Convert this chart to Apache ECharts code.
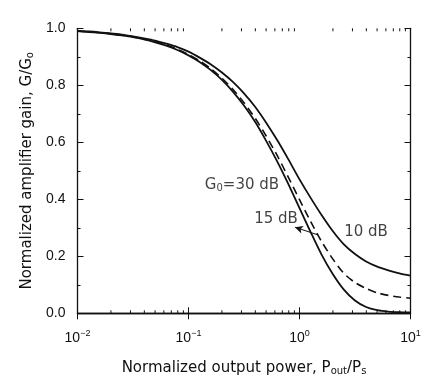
<!DOCTYPE html>
<html>
<head>
<meta charset="utf-8">
<script src="https://cdn.jsdelivr.net/npm/echarts@6/dist/echarts.min.js"></script>
<style>
html,body{margin:0;padding:0;background:#fff;}
#c{width:439px;height:388px;}
</style>
</head>
<body>
<div id="c"></div>
<script>
// Normalized output power Pout/Ps (log scale)
const xPower = [0.01, 0.0126, 0.0158, 0.02, 0.0251, 0.0316, 0.0398, 0.0501, 0.0631, 0.0794,
                0.1, 0.126, 0.158, 0.2, 0.251, 0.316, 0.398, 0.501, 0.631, 0.794,
                1, 1.26, 1.58, 2, 2.51, 3.16, 3.98, 5.01, 6.31, 7.94, 10];
// Normalized gain G/G0
const gain30dB = [0.990, 0.987, 0.984, 0.980, 0.975, 0.969, 0.961, 0.951, 0.939, 0.924,
                  0.905, 0.882, 0.854, 0.819, 0.778, 0.729, 0.672, 0.605, 0.532, 0.453,
                  0.369, 0.285, 0.206, 0.137, 0.083, 0.045, 0.022, 0.011, 0.006, 0.004, 0.003];
const gain15dB = [0.990, 0.988, 0.985, 0.981, 0.976, 0.970, 0.962, 0.953, 0.941, 0.926,
                  0.908, 0.886, 0.859, 0.825, 0.786, 0.739, 0.685, 0.622, 0.553, 0.477,
                  0.399, 0.322, 0.252, 0.190, 0.140, 0.108, 0.087, 0.072, 0.063, 0.057, 0.053];
const gain10dB = [0.991, 0.989, 0.986, 0.982, 0.978, 0.972, 0.965, 0.957, 0.946, 0.934,
                  0.918, 0.897, 0.874, 0.845, 0.812, 0.772, 0.725, 0.669, 0.607, 0.540,
                  0.470, 0.405, 0.345, 0.288, 0.242, 0.208, 0.182, 0.164, 0.151, 0.140, 0.132];
// Tick labels
const yTicks = [0, 0.2, 0.4, 0.6, 0.8, 1.0];
const xDecades = [0.01, 0.1, 1, 10];
const xMinor = [];
for (let d = 0; d < xDecades.length - 1; d++) {
  for (let k = 2; k <= 9; k++) xMinor.push(k * xDecades[d]);
}
// Annotations [label, x, y]
const labels = [
  ['G{sub|0}=30 dB', 0.303, 0.450],
  ['15 dB', 0.614, 0.331],
  ['10 dB', 3.97, 0.285]
];
const arrowFrom = [1.47, 0.275];
const arrowTo = [0.91, 0.302];

const FONT = '"Liberation Sans", Arial, Helvetica, sans-serif';
const FONT2 = '"DejaVu Sans", Verdana, sans-serif';
const ink = '#111';
const pair = (xs, ys) => xs.map((x, i) => [x, ys[i]]);

const chart = echarts.init(document.getElementById('c'), null, {renderer: 'canvas'});
const rich = {
  sup: {fontSize: 9, verticalAlign: 'top', padding: [0, 0, 8, 0], fontFamily: FONT, color: ink},
  sub: {fontSize: 9, verticalAlign: 'bottom', padding: [7, 0, 0, 0], fontFamily: FONT, color: ink}
};
const rich2 = {
  sub: {fontSize: 10, verticalAlign: 'bottom', padding: [7, 0, 0, 0], fontFamily: FONT2, color: ink}
};
const axLine = {show: true, lineStyle: {color: ink, width: 1.3}};

chart.setOption({
  animation: false,
  backgroundColor: '#fff',
  grid: {left: 77.5, right: 28.5, top: 28.3, bottom: 74.7, containLabel: false},
  xAxis: [{
    type: 'log', logBase: 10, min: 0.01, max: 10, position: 'bottom',
    axisLine: axLine,
    axisTick: {show: true, inside: true, length: 6, lineStyle: {color: ink, width: 1}},
    splitLine: {show: false},
    axisLabel: {
      show: true, margin: 16, fontSize: 14, fontFamily: FONT, color: ink,
      formatter: v => '10{sup|' + String(Math.round(Math.log10(v))).replace('-', '\u2212') + '}',
      rich: rich
    },
    name: 'Normalized output power, P{sub|out}/P{sub|s}',
    nameLocation: 'middle', nameGap: 46,
    nameTextStyle: {fontSize: 15, fontFamily: FONT2, color: ink, rich: rich2}
  }, {
    type: 'log', logBase: 10, min: 0.01, max: 10, position: 'top',
    axisLine: axLine,
    axisTick: {show: true, inside: true, length: 6, lineStyle: {color: ink, width: 1}},
    axisLabel: {show: false}, splitLine: {show: false}
  }],
  yAxis: [{
    type: 'value', min: 0, max: 1, interval: 0.2, position: 'left',
    axisLine: axLine,
    axisTick: {show: true, inside: true, length: 6, lineStyle: {color: ink, width: 1}},
    minorTick: {show: true, splitNumber: 2, length: 3, lineStyle: {color: ink, width: 1}},
    splitLine: {show: false},
    axisLabel: {fontSize: 14, fontFamily: FONT, color: ink, margin: 12, formatter: v => v.toFixed(1)},
    name: 'Normalized amplifier gain, G/G{sub|o}',
    nameLocation: 'middle', nameGap: 40, nameRotate: 90,
    nameTextStyle: {fontSize: 15, fontFamily: FONT2, color: ink, rich: rich2}
  }, {
    type: 'value', min: 0, max: 1, interval: 0.2, position: 'right',
    axisLine: axLine,
    axisTick: {show: true, inside: true, length: 6, lineStyle: {color: ink, width: 1}},
    minorTick: {show: true, splitNumber: 2, length: 3, lineStyle: {color: ink, width: 1}},
    splitLine: {show: false}, axisLabel: {show: false}
  }],
  series: [
    {
      name: '30 dB', type: 'line', data: pair(xPower, gain30dB), smooth: 0.25,
      symbol: 'none', lineStyle: {color: ink, width: 1.8}
    },
    {
      name: '15 dB', type: 'line', data: pair(xPower, gain15dB), smooth: 0.25,
      symbol: 'none', lineStyle: {color: ink, width: 1.6, type: [8, 5]},
      markLine: {
        silent: true, animation: false,
        lineStyle: {color: ink, width: 1, type: 'solid'},
        label: {show: false},
        data: [[
          {coord: arrowFrom, symbol: 'none'},
          {coord: arrowTo, symbol: 'arrow', symbolSize: [6, 8]}
        ]]
      }
    },
    {
      name: '10 dB', type: 'line', data: pair(xPower, gain10dB), smooth: 0.25,
      symbol: 'none', lineStyle: {color: ink, width: 1.8}
    },
    {
      name: 'minor', type: 'custom', silent: true, clip: false,
      data: xMinor.map(v => [v, 0]),
      renderItem: (params, api) => {
        const x = api.value(0);
        const b = api.coord([x, 0]);
        const t = api.coord([x, 1]);
        const st = {stroke: ink, lineWidth: 1};
        return {type: 'group', children: [
          {type: 'line', shape: {x1: b[0], y1: b[1], x2: b[0], y2: b[1] - 3}, style: st},
          {type: 'line', shape: {x1: t[0], y1: t[1], x2: t[0], y2: t[1] + 3}, style: st}
        ]};
      }
    },
    {
      name: 'labels', type: 'scatter', symbolSize: 0, silent: true,
      data: labels.map(l => ({value: [l[1], l[2]], name: l[0]})),
      label: {
        show: true, position: 'inside', formatter: p => p.name,
        fontSize: 15, fontFamily: FONT2, color: ink, rich: rich2
      }
    }
  ]
});
</script>
</body>
</html>
